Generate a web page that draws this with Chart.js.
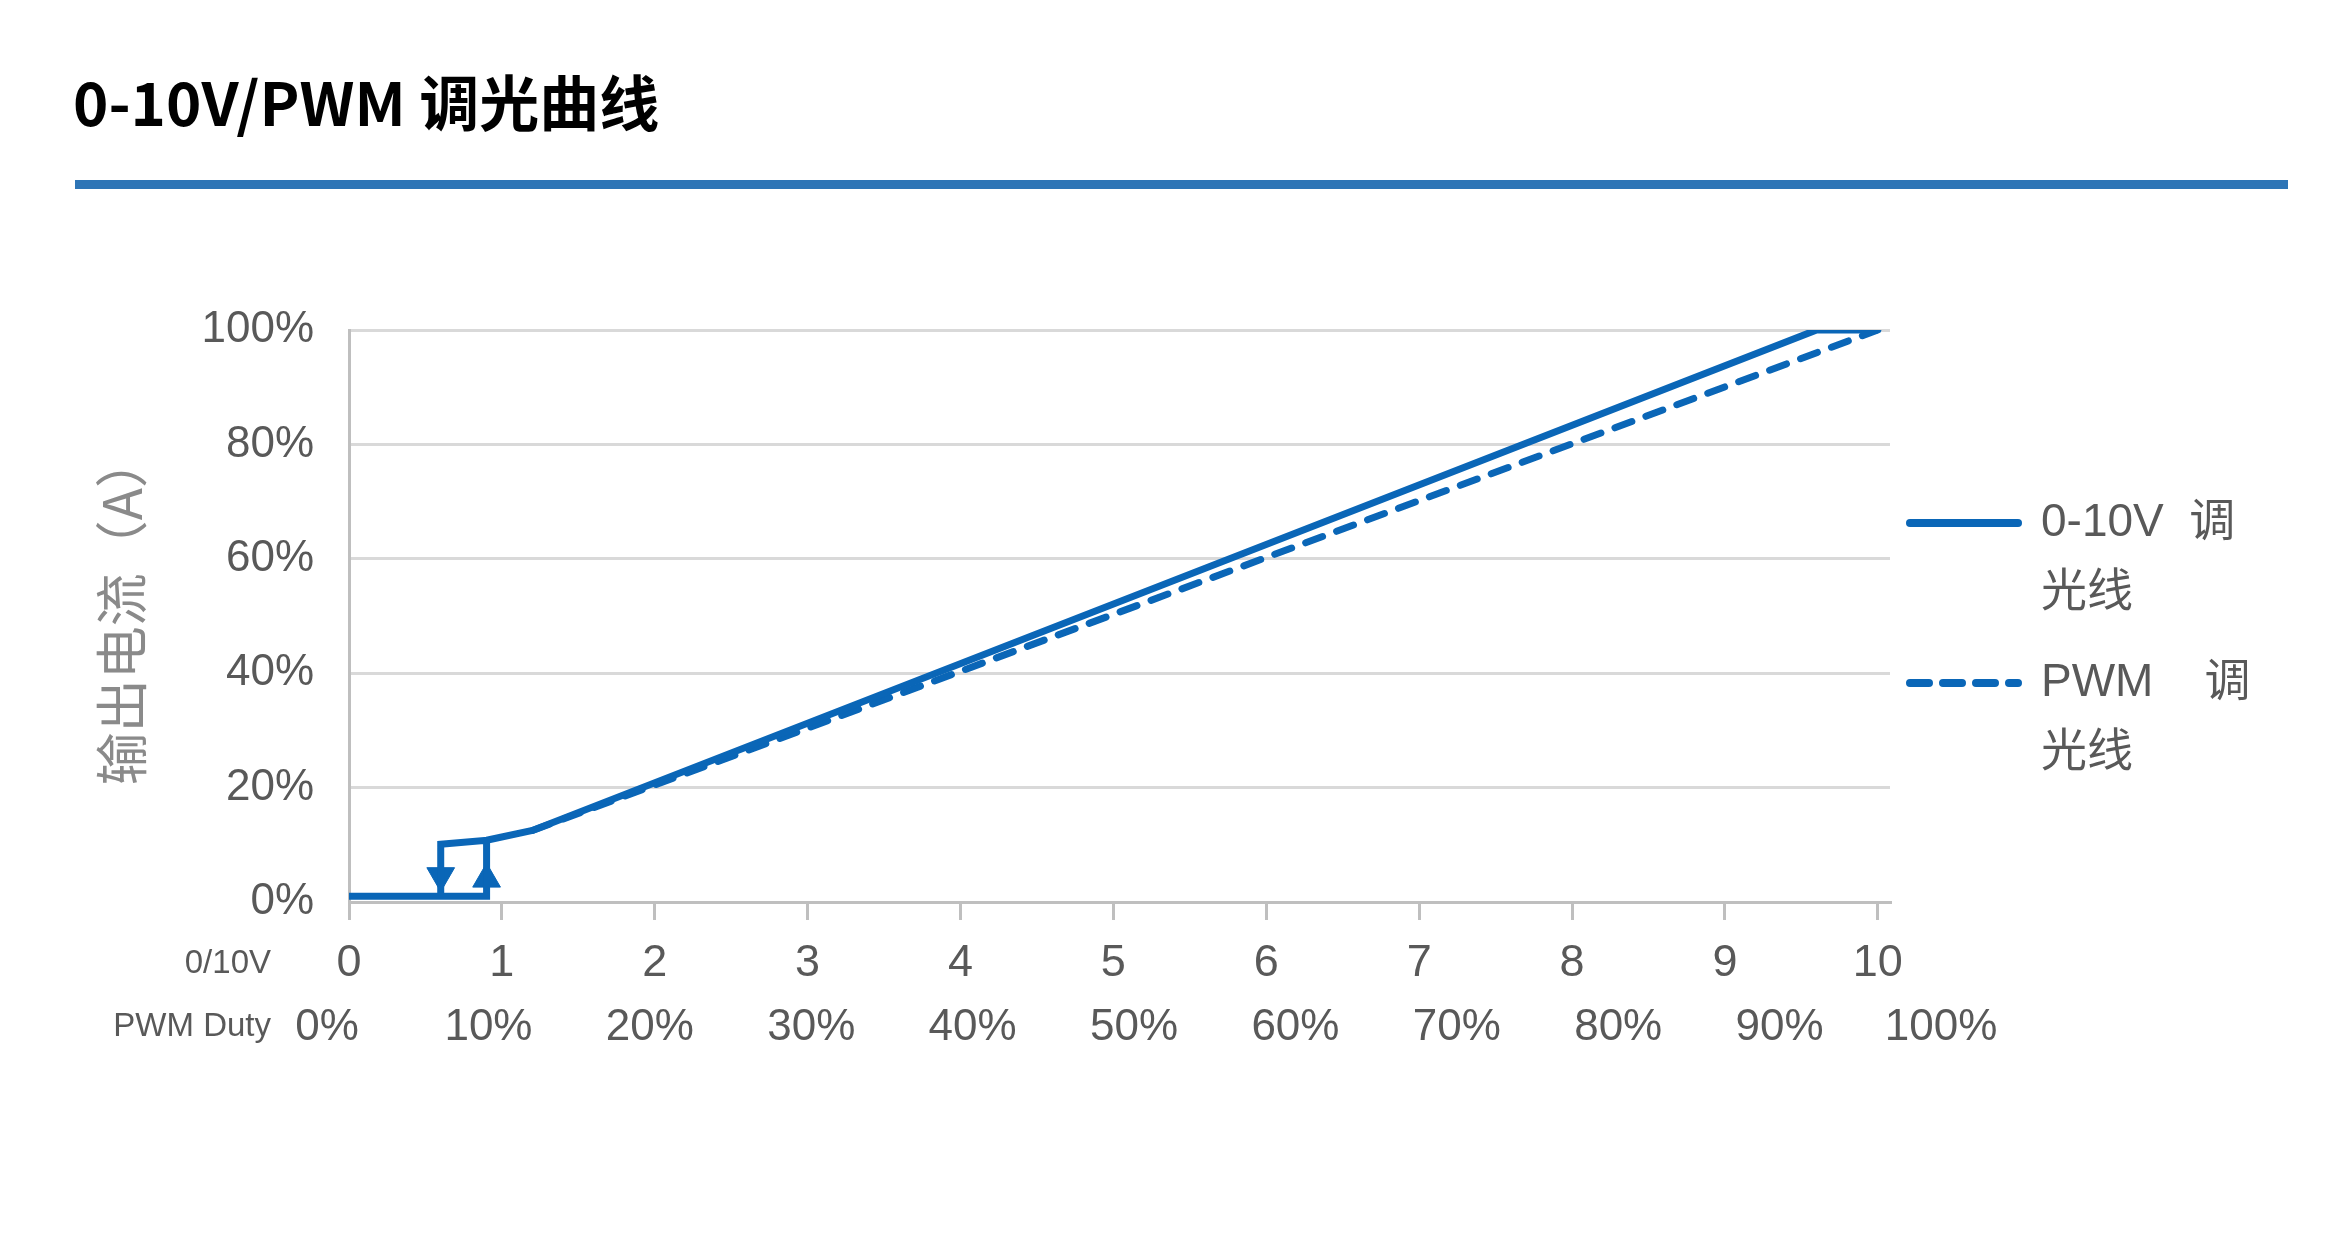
<!DOCTYPE html>
<html><head><meta charset="utf-8">
<script src="https://cdn.jsdelivr.net/npm/chart.js@4.4.1/dist/chart.umd.min.js"></script>
<style>
html,body{margin:0;padding:0;background:#fff;}
#wrap{position:relative;width:2352px;height:1248px;overflow:hidden;background:#fff;}
#c{position:absolute;left:0;top:0;}
#title{position:absolute;left:73px;top:66px;font:bold 60px 'Noto Sans CJK SC',sans-serif;color:#000;line-height:68px;white-space:nowrap;}
#bar{position:absolute;left:75px;top:180px;width:2213px;height:9px;background:#2E75B6;}
</style></head><body>
<div id="wrap"><canvas id="c" width="2352" height="1248"></canvas><div id="title"></div><div id="bar"></div></div>
<script>
// ---- data ----
const chartTitle = '0-10V/PWM 调光曲线';
const seriesNames = ['0-10V 调光线', 'PWM 调光线'];
const legendLines = [['0-10V  调', '光线'], ['PWM    调', '光线']];
const yTitle = ' 输出电流（A）';
const rowLabels = ['0/10V', 'PWM Duty'];
const voltTicks = [0, 1, 2, 3, 4, 5, 6, 7, 8, 9, 10];
const dutyTicks = [0, 10, 20, 30, 40, 50, 60, 70, 80, 90, 100];
const currentTicks = [0, 20, 40, 60, 80, 100];
// 0-10V curve (with hysteresis loop at low end; null = break)
const ctrl010V = [0, 0.9, 0.9, 0.6, 0.6, null, 0.9, 1.2, 9.6, 10];
const out010V  = [1, 1, 10.8, 10.1, 1, null, 10.8, 12.5, 100, 100];
// PWM curve
const ctrlPWM = [1.2, 10];
const outPWM  = [12.5, 100];
// hysteresis arrow heads
const arrowX = [0.6, 0.9];
const arrowY = [4.6, 4.0];
const arrowDir = [180, 0];

// ---- layout / style ----
const BLUE = '#0A66B7';
const TXT = '#595959';
const F = "'Liberation Sans', Arial, 'Noto Sans CJK SC', sans-serif";
const PLOT = {left: 349, right: 1890};
const PAD = {left: 60, top: 330, bottom: 193, right: 100};
const DUTY_MIN = 1.36, DUTY_MAX = 96.84;
const X_TICK = {size: 45, pad: 17, len: 18};
const X2_TICK = {size: 44, pad: 10};

document.getElementById('title').textContent = chartTitle;

const rowLabelPlugin = {
  id: 'rowLabels',
  afterDraw(chart) {
    const c = chart.ctx, sx = chart.scales.x, s2 = chart.scales.x2;
    c.save();
    c.font = "33px " + F;
    c.fillStyle = TXT; c.textAlign = 'right'; c.textBaseline = 'middle';
    const xr = chart.chartArea.left - 78;
    c.fillText(rowLabels[0], xr, sx.top + X_TICK.len + X_TICK.pad + X_TICK.size * 1.2 / 2);
    c.fillText(rowLabels[1], xr, s2.top + X2_TICK.pad + X2_TICK.size * 1.2 / 2);
    c.restore();
  }
};

const cfg = {
  type: 'line',
  data: {
    datasets: [
      {
        label: seriesNames[0],
        data: ctrl010V.map((x, i) => ({x: x, y: out010V[i]})),
        borderColor: BLUE, backgroundColor: BLUE, borderWidth: 7,
        pointRadius: 0, tension: 0, spanGaps: false, fill: false,
        borderJoinStyle: 'miter', borderCapStyle: 'butt'
      },
      {
        label: seriesNames[1],
        data: ctrlPWM.map((x, i) => ({x: x, y: outPWM[i]})),
        borderColor: BLUE, backgroundColor: BLUE, borderWidth: 7,
        borderDash: [18, 15], borderCapStyle: 'round',
        pointRadius: 0, tension: 0, fill: false
      },
      {
        label: 'arrows',
        data: arrowX.map((x, i) => ({x: x, y: arrowY[i]})),
        showLine: false, pointStyle: 'triangle', pointRadius: 16, pointHoverRadius: 16,
        pointRotation: arrowDir, backgroundColor: BLUE, borderColor: BLUE, borderWidth: 1
      }
    ]
  },
  options: {
    responsive: false, animation: false, events: [],
    layout: {padding: {left: PAD.left, top: PAD.top, bottom: PAD.bottom, right: PAD.right}},
    plugins: {
      tooltip: {enabled: false},
      legend: {
        position: 'right', align: 'start',
        title: {display: true, text: ' ', font: {size: 10}, padding: {top: 0, bottom: 138}},
        labels: {
          usePointStyle: true, pointStyleWidth: 108, padding: 20, color: TXT,
          font: {family: F, size: 46, lineHeight: 70 / 46},
          generateLabels: () => legendLines.map((lines, i) => ({
            text: lines, fillStyle: BLUE, strokeStyle: BLUE, lineWidth: 8,
            lineCap: 'round', lineDash: i === 0 ? [] : [19, 14], pointStyle: 'line',
            hidden: false, datasetIndex: i, fontColor: TXT
          }))
        }
      }
    },
    scales: {
      x: {
        type: 'linear', position: 'bottom', weight: 0, min: 0, max: 10.08,
        afterBuildTicks: s => { s.ticks = voltTicks.map(v => ({value: v})); },
        ticks: {autoSkip: false, maxRotation: 0, padding: X_TICK.pad, color: TXT,
                font: {family: F, size: X_TICK.size}, callback: v => String(v)},
        grid: {display: true, drawOnChartArea: false, drawTicks: true, tickLength: X_TICK.len,
               color: '#bfbfbf', lineWidth: 3},
        border: {display: true, color: '#bfbfbf', width: 3},
        afterFit: s => { s.height = 89; }
      },
      x2: {
        type: 'linear', position: 'bottom', weight: 1, min: DUTY_MIN, max: DUTY_MAX,
        afterBuildTicks: s => { s.ticks = dutyTicks.map(v => ({value: v})); },
        ticks: {autoSkip: false, maxRotation: 0, padding: X2_TICK.pad, color: TXT,
                font: {family: F, size: X2_TICK.size}, callback: v => v + '%'},
        grid: {display: false, drawTicks: false},
        border: {display: false},
        afterFit: s => { s.height = 64; }
      },
      y: {
        min: 0, max: 100,
        afterBuildTicks: s => { s.ticks = currentTicks.map(v => ({value: v})); },
        ticks: {padding: 35, color: TXT, font: {family: F, size: 44}, callback: v => v + '%'},
        grid: {color: '#d9d9d9', lineWidth: 3, drawTicks: false},
        border: {display: true, color: '#bfbfbf', width: 3},
        title: {display: true, text: yTitle, color: '#8a8a8a',
                font: {family: "'Noto Sans CJK SC', sans-serif", size: 53}, padding: {top: 30, bottom: 0}},
        afterFit: s => { s.width = PLOT.left - PAD.left; }
      }
    }
  },
  plugins: [rowLabelPlugin]
};

const chart = new Chart(document.getElementById('c'), cfg);
const dx = chart.chartArea.right - PLOT.right;
if (Math.abs(dx) > 0.5) {
  chart.options.layout.padding.right += dx;
  chart.update('none');
}
</script>
</body></html>
